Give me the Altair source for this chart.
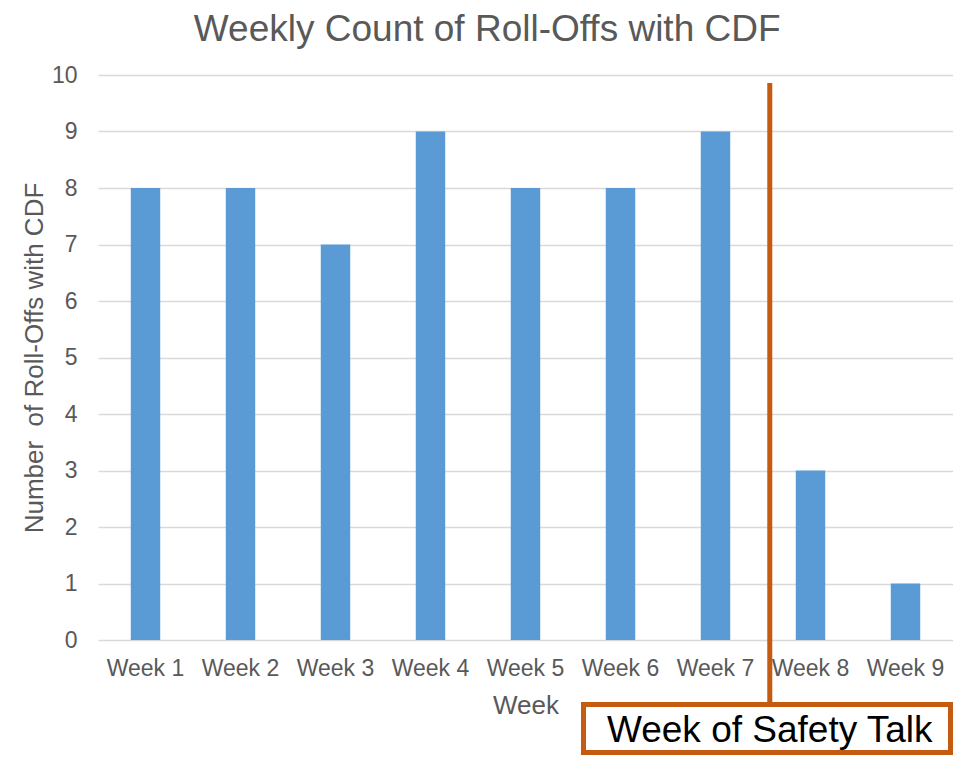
import altair as alt
import pandas as pd

weeks = ["Week 1", "Week 2", "Week 3", "Week 4", "Week 5", "Week 6", "Week 7", "Week 8", "Week 9"]
counts = [8, 8, 7, 9, 8, 8, 9, 3, 1]

title_text = "Weekly Count of Roll-Offs with CDF"
y_title = "Number\u00a0\u00a0of Roll-Offs with CDF"
x_title = "Week"
note_text = "Week of Safety Talk"
talk_week = "Week 8"

df = pd.DataFrame({"week": weeks, "count": counts})
note_df = pd.DataFrame({"week": [talk_week], "label": [note_text]})

FONT = "Liberation Sans"
GREY = "#595959"
ORANGE = "#C55A11"

x_enc = alt.X(
    "week:N",
    sort=weeks,
    scale=alt.Scale(paddingInner=0.69, paddingOuter=0.345),
    axis=alt.Axis(
        title=x_title,
        labelAngle=0,
        labelFont=FONT,
        labelFontSize=23,
        labelColor=GREY,
        labelPadding=17,
        ticks=False,
        domain=False,
        grid=False,
        titleFont=FONT,
        titleFontSize=26,
        titleColor=GREY,
        titleFontWeight="normal",
        titlePadding=12,
    ),
)

bars = alt.Chart(df).mark_bar(color="#5B9BD5").encode(
    x=x_enc,
    y=alt.Y(
        "count:Q",
        scale=alt.Scale(domain=[0, 10], nice=False),
        axis=alt.Axis(
            title=y_title,
            values=list(range(0, 11)),
            labelFont=FONT,
            labelFontSize=23,
            labelColor=GREY,
            labelPadding=21,
            ticks=False,
            domain=False,
            gridColor="#D9D9D9",
            gridWidth=1.5,
            titleFont=FONT,
            titleFontSize=26,
            titleColor=GREY,
            titleFontWeight="normal",
            titlePadding=4,
        ),
    ),
)

rule = alt.Chart(note_df).mark_rule(color=ORANGE, strokeWidth=5, clip=False).encode(
    x=alt.X("week:N", sort=weeks),
    xOffset=alt.value(-26),
    y=alt.value(8),
    y2=alt.value(629),
)

box = alt.Chart(note_df).mark_rect(
    fill="white", stroke=ORANGE, strokeWidth=5, clip=False
).encode(
    x=alt.value(485.5),
    x2=alt.value(852.5),
    y=alt.value(629.5),
    y2=alt.value(677.5),
)

note = alt.Chart(note_df).mark_text(
    font=FONT, fontSize=37, color="black", align="center", baseline="middle", clip=False
).encode(
    x=alt.X("week:N", sort=weeks),
    xOffset=alt.value(-26),
    y=alt.value(656),
    text="label:N",
)

chart = (
    alt.layer(bars, rule, box, note)
    .properties(
        width=855,
        height=565,
        padding={"left": 90, "top": 67, "right": 0, "bottom": 115},
        autosize=alt.AutoSizeParams(type="none"),
        title=alt.TitleParams(
            text=title_text,
            font=FONT,
            fontSize=37,
            fontWeight="normal",
            color=GREY,
            anchor="middle",
            frame="bounds",
            offset=15,
        ),
    )
    .configure_view(stroke=None)
)

chart.save("out.html", embed_options={"renderer": "svg", "actions": False})
